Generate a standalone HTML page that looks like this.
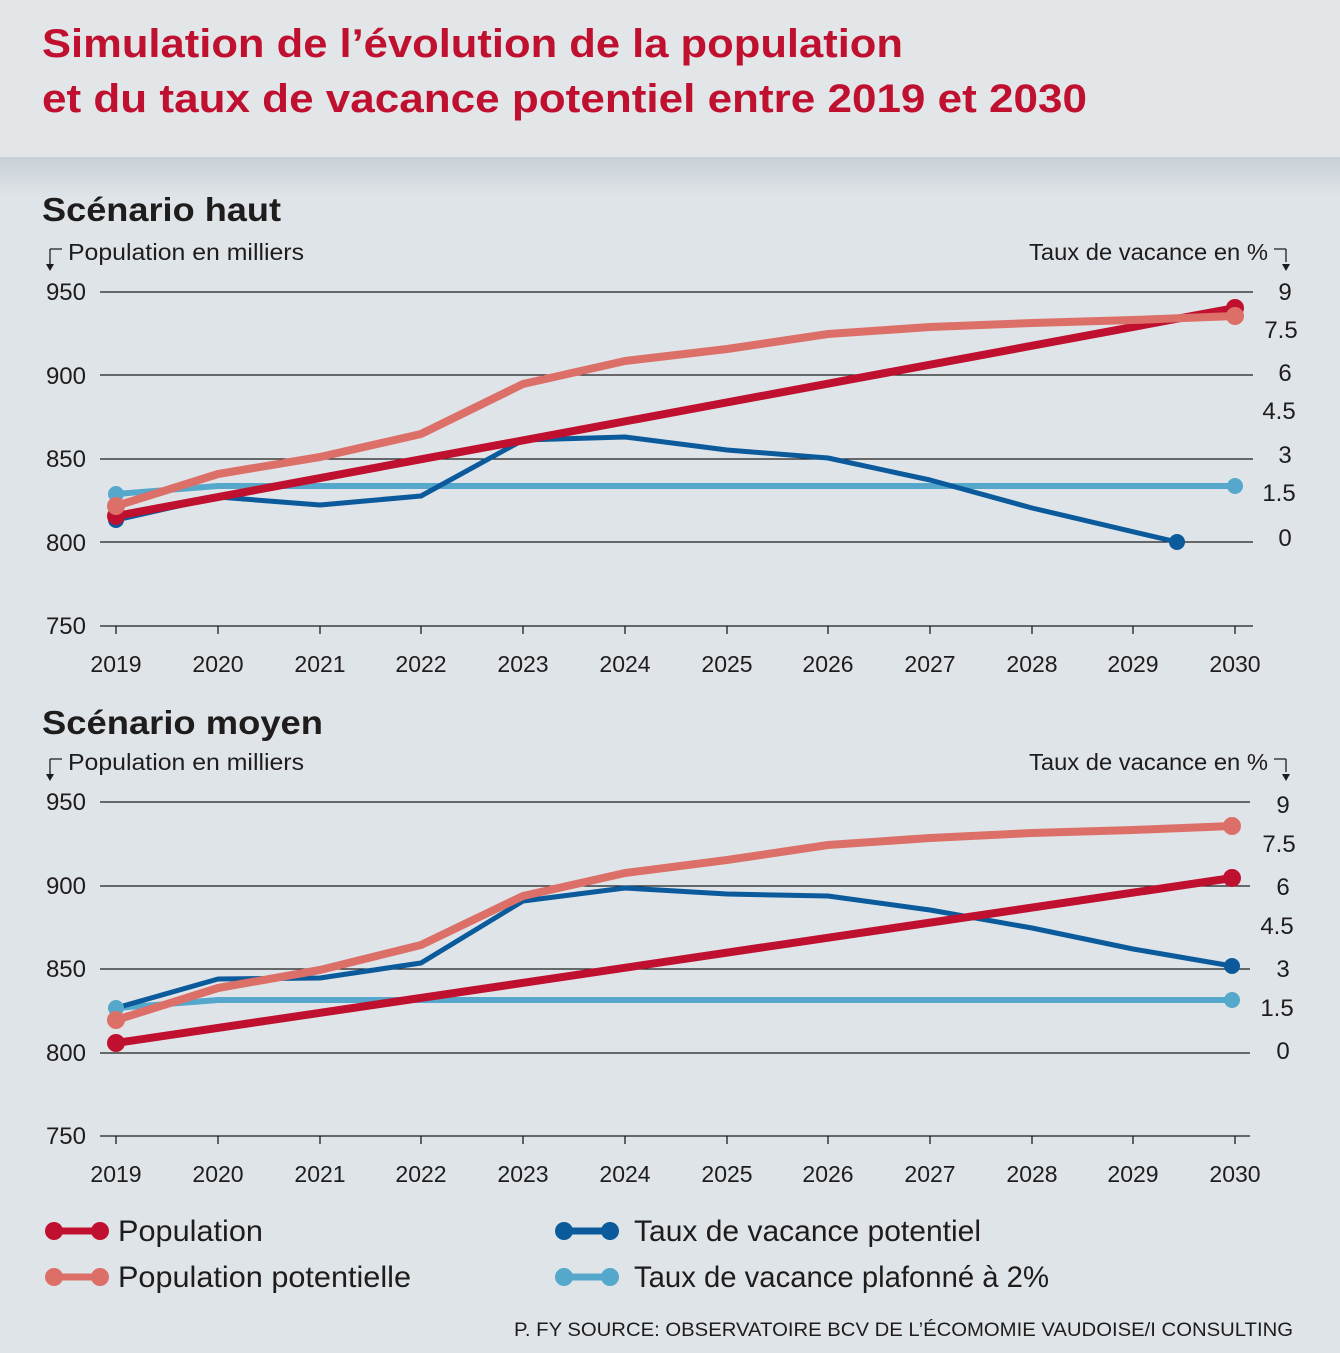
<!DOCTYPE html>
<html><head><meta charset="utf-8"><style>
html,body{margin:0;padding:0;background:#dfe4e8;}
svg{display:block;font-family:"Liberation Sans",sans-serif;}
</style></head><body>
<svg width="1340" height="1353" viewBox="0 0 1340 1353" xmlns="http://www.w3.org/2000/svg">
<defs>
<linearGradient id="g" x1="0" y1="0" x2="0" y2="1">
<stop offset="0" stop-color="#c8d0d7"/><stop offset="1" stop-color="#dfe4e8"/>
</linearGradient>
</defs>
<rect width="1340" height="1353" fill="#dfe4e8"/>
<rect width="1340" height="157" fill="#e2e6e9"/>
<rect y="157" width="1340" height="40" fill="url(#g)"/>
<g fill="#c0102f" font-weight="bold" font-size="40">
<text x="42" y="57" textLength="861" lengthAdjust="spacingAndGlyphs">Simulation de l’évolution de la population</text>
<text x="42" y="112" textLength="1045" lengthAdjust="spacingAndGlyphs">et du taux de vacance potentiel entre 2019 et 2030</text>
</g>

<!-- Chart 1 -->
<text x="42" y="221" font-size="33" font-weight="bold" fill="#1e1c1c" textLength="239" lengthAdjust="spacingAndGlyphs">Scénario haut</text>
<g font-size="23" fill="#1e1c1c">
<text x="68" y="260" textLength="236" lengthAdjust="spacingAndGlyphs">Population en milliers</text>
<text x="1268" y="260" text-anchor="end" textLength="239" lengthAdjust="spacingAndGlyphs">Taux de vacance en %</text>
<g text-anchor="end" font-size="24"><text x="86" y="300">950</text><text x="86" y="384">900</text><text x="86" y="467">850</text><text x="86" y="551">800</text><text x="86" y="634">750</text></g>
<g text-anchor="middle" font-size="24"><text x="1285" y="300">9</text><text x="1281" y="338">7.5</text><text x="1285" y="381">6</text><text x="1279" y="419">4.5</text><text x="1285" y="463">3</text><text x="1279" y="501">1.5</text><text x="1285" y="546">0</text></g>
<g text-anchor="middle"><text x="116" y="672">2019</text><text x="218" y="672">2020</text><text x="320" y="672">2021</text><text x="421" y="672">2022</text><text x="523" y="672">2023</text><text x="625" y="672">2024</text><text x="727" y="672">2025</text><text x="828" y="672">2026</text><text x="930" y="672">2027</text><text x="1032" y="672">2028</text><text x="1133" y="672">2029</text><text x="1235" y="672">2030</text></g>
</g>
<g stroke="#1e1c1c" stroke-width="1.3" fill="none">
<path d="M50 262V266M50 249H62M50 249V262M1286 249H1274M1286 249V262"/>
<path d="M100 292H1253M100 375H1253M100 459H1253M100 542H1253M100 626H1253"/>
<path d="M116 626v8M218 626v8M320 626v8M421 626v8M523 626v8M625 626v8M727 626v8M828 626v8M930 626v8M1032 626v8M1133 626v8M1235 626v8"/>
</g>
<path d="M46 264l4 7 4-7zM1282 264l4 7 4-7z" fill="#1e1c1c"/>
<g fill="none" stroke-linejoin="round" stroke-linecap="round">
<polyline stroke="#55a8cc" stroke-width="6" points="116,494 218,486 1235,486"/>
<polyline stroke="#0a5a9c" stroke-width="5" points="116,520 218,497 320,505 421,496 523,440 625,437 727,450 828,458 930,480 1032,508 1177,542"/>
<polyline stroke="#c0102f" stroke-width="8" points="116,516 1235,308"/>
<polyline stroke="#dc7068" stroke-width="8" points="116,506 218,474 320,457 421,434 523,384 625,361 727,349 828,334 930,327 1032,323 1133,320 1235,316"/>
</g>
<circle cx="116" cy="494" r="8" fill="#55a8cc"/><circle cx="1235" cy="486" r="8" fill="#55a8cc"/>
<circle cx="116" cy="520" r="8" fill="#0a5a9c"/><circle cx="1177" cy="542" r="8" fill="#0a5a9c"/>
<circle cx="116" cy="516" r="9" fill="#c0102f"/><circle cx="1235" cy="308" r="9" fill="#c0102f"/>
<circle cx="116" cy="506" r="9" fill="#dc7068"/><circle cx="1235" cy="316" r="9" fill="#dc7068"/>

<!-- Chart 2 -->
<text x="42" y="734" font-size="33" font-weight="bold" fill="#1e1c1c" textLength="281" lengthAdjust="spacingAndGlyphs">Scénario moyen</text>
<g font-size="23" fill="#1e1c1c">
<text x="68" y="770" textLength="236" lengthAdjust="spacingAndGlyphs">Population en milliers</text>
<text x="1268" y="770" text-anchor="end" textLength="239" lengthAdjust="spacingAndGlyphs">Taux de vacance en %</text>
<g text-anchor="end" font-size="24"><text x="86" y="810">950</text><text x="86" y="894">900</text><text x="86" y="977">850</text><text x="86" y="1061">800</text><text x="86" y="1144">750</text></g>
<g text-anchor="middle" font-size="24"><text x="1283" y="813">9</text><text x="1279" y="852">7.5</text><text x="1283" y="895">6</text><text x="1277" y="934">4.5</text><text x="1283" y="977">3</text><text x="1277" y="1016">1.5</text><text x="1283" y="1059">0</text></g>
<g text-anchor="middle"><text x="116" y="1182">2019</text><text x="218" y="1182">2020</text><text x="320" y="1182">2021</text><text x="421" y="1182">2022</text><text x="523" y="1182">2023</text><text x="625" y="1182">2024</text><text x="727" y="1182">2025</text><text x="828" y="1182">2026</text><text x="930" y="1182">2027</text><text x="1032" y="1182">2028</text><text x="1133" y="1182">2029</text><text x="1235" y="1182">2030</text></g>
</g>
<g stroke="#1e1c1c" stroke-width="1.3" fill="none">
<path d="M50 772V776M50 759H62M50 759V772M1286 759H1274M1286 759V772"/>
<path d="M100 802H1250M100 886H1250M100 969H1250M100 1053H1250M100 1136H1250"/>
<path d="M116 1136v8M218 1136v8M320 1136v8M421 1136v8M523 1136v8M625 1136v8M727 1136v8M828 1136v8M930 1136v8M1032 1136v8M1133 1136v8M1235 1136v8"/>
</g>
<path d="M46 774l4 7 4-7zM1282 774l4 7 4-7z" fill="#1e1c1c"/>
<g fill="none" stroke-linejoin="round" stroke-linecap="round">
<polyline stroke="#55a8cc" stroke-width="6" points="116,1008 218,1000 1232,1000"/>
<polyline stroke="#0a5a9c" stroke-width="5" points="116,1008 218,979 320,978 421,963 523,901 625,888 727,894 828,896 930,910 1032,928 1133,949 1232,966"/>
<polyline stroke="#c0102f" stroke-width="8" points="116,1043 1232,878"/>
<polyline stroke="#dc7068" stroke-width="8" points="116,1020 218,988 320,970 421,945 523,896 625,873 727,860 828,845 930,838 1032,833 1133,830 1232,826"/>
</g>
<circle cx="116" cy="1008" r="8" fill="#55a8cc"/><circle cx="1232" cy="1000" r="8" fill="#55a8cc"/>
<circle cx="1232" cy="966" r="8" fill="#0a5a9c"/>
<circle cx="116" cy="1043" r="9" fill="#c0102f"/><circle cx="1232" cy="878" r="9" fill="#c0102f"/>
<circle cx="116" cy="1020" r="9" fill="#dc7068"/><circle cx="1232" cy="826" r="9" fill="#dc7068"/>

<!-- Legend -->
<g stroke-width="7">
<line x1="54" y1="1231" x2="100" y2="1231" stroke="#c0102f"/>
<line x1="54" y1="1277" x2="100" y2="1277" stroke="#dc7068"/>
<line x1="564" y1="1231" x2="610" y2="1231" stroke="#0a5a9c"/>
<line x1="564" y1="1277" x2="610" y2="1277" stroke="#55a8cc"/>
</g>
<circle cx="54" cy="1231" r="9" fill="#c0102f"/><circle cx="100" cy="1231" r="9" fill="#c0102f"/>
<circle cx="54" cy="1277" r="9" fill="#dc7068"/><circle cx="100" cy="1277" r="9" fill="#dc7068"/>
<circle cx="564" cy="1231" r="9" fill="#0a5a9c"/><circle cx="610" cy="1231" r="9" fill="#0a5a9c"/>
<circle cx="564" cy="1277" r="9" fill="#55a8cc"/><circle cx="610" cy="1277" r="9" fill="#55a8cc"/>
<g font-size="30" fill="#1e1c1c">
<text x="118" y="1241" textLength="145" lengthAdjust="spacingAndGlyphs">Population</text>
<text x="118" y="1287" textLength="293" lengthAdjust="spacingAndGlyphs">Population potentielle</text>
<text x="634" y="1241" textLength="347" lengthAdjust="spacingAndGlyphs">Taux de vacance potentiel</text>
<text x="634" y="1287" textLength="415" lengthAdjust="spacingAndGlyphs">Taux de vacance plafonné à 2%</text>
</g>
<text x="1293" y="1336" font-size="19" fill="#1e1c1c" text-anchor="end" textLength="779" lengthAdjust="spacingAndGlyphs">P. FY SOURCE: OBSERVATOIRE BCV DE L’ÉCOMOMIE VAUDOISE/I CONSULTING</text>
</svg>
</body></html>
